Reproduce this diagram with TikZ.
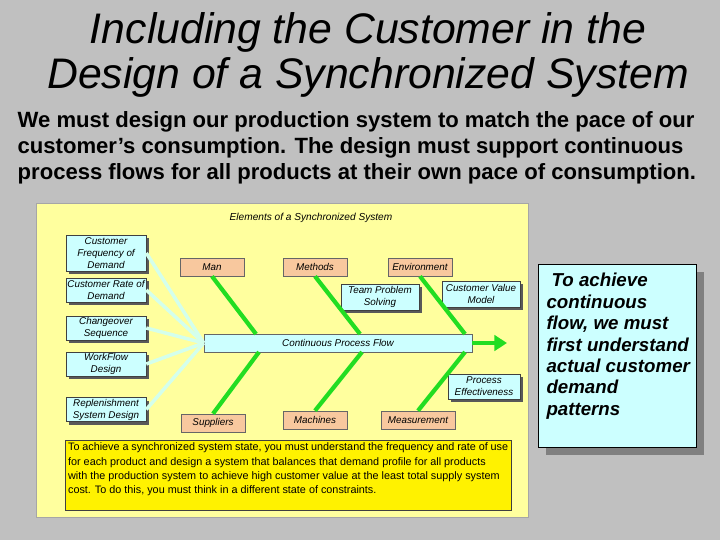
\documentclass[tikz,border=0pt]{standalone}
\usepackage{fontspec}
\setmainfont{Liberation Sans}
\usepackage{xcolor}
\usepackage{tikz}
\usetikzlibrary{arrows.meta, shadows}

\definecolor{slidegrey}{HTML}{C0C0C0}
\definecolor{panelyellow}{HTML}{FFFF9E}
\definecolor{boxcyan}{HTML}{CCFFFF}
\definecolor{boxorange}{HTML}{F8C89E}
\definecolor{bonegreen}{HTML}{22DD22}
\definecolor{feedcyan}{HTML}{D4FFEC}

\begin{document}
\begin{tikzpicture}[x=0.025cm, y=-0.025cm,
    every node/.append style={inner sep=1pt},
    cbox/.style={draw=black!75, fill=boxcyan, align=center,
        font=\fontsize{7}{8.5}\selectfont\itshape,
        drop shadow={shadow xshift=2.2pt, shadow yshift=-2.2pt, fill=black!65, opacity=1}},
    obox/.style={draw=black!60, fill=boxorange, minimum width=1.6cm, minimum height=0.45cm,
        font=\fontsize{7}{8.5}\selectfont\itshape},
    bone/.style={line width=3pt, draw=bonegreen},
    feed/.style={line width=2.5pt, draw=feedcyan},
]

% slide background and panel
\fill[slidegrey] (0,0) rectangle (720,540);
\draw[black!35, fill=panelyellow] (36,203) rectangle (528,517);

\node[font=\fontsize{30.4}{32}\selectfont\itshape, align=center] (title) at (368,55)
    {Including the Customer in the\\Design of a Synchronized System};

\node[font=\fontsize{15.7}{18.4}\selectfont\bfseries, align=left, anchor=north west] (intro) at (16,110)
    {We must design our production system to match the pace of our\\
     customer’s consumption.  The design must support continuous\\
     process flows for all products at their own pace of consumption.};

\node[font=\fontsize{7.2}{8.5}\selectfont\itshape] (elements) at (311,218) {Elements of a Synchronized System};

% demand boxes on the left
\node[cbox, minimum width=2cm, minimum height=0.9cm] (freq) at (106,253) {Customer\\Frequency of\\Demand};
\node[cbox, minimum width=2cm, minimum height=0.6cm] (rate) at (106,290) {Customer Rate of\\Demand};
\node[cbox, minimum width=2cm, minimum height=0.6cm] (change) at (106,328) {Changeover\\Sequence};
\node[cbox, minimum width=2cm, minimum height=0.6cm] (workflow) at (106,364) {WorkFlow\\Design};
\node[cbox, minimum width=2cm, minimum height=0.6cm] (replen) at (106,409.5) {Replenishment\\System Design};

% spine
\node[draw=black!60, fill=boxcyan, minimum width=6.7cm, minimum height=0.45cm,
    font=\fontsize{7}{8.5}\selectfont\itshape] (flow) at (338,343) {Continuous Process Flow};
\coordinate (flowend) at (507,343);

% cause boxes
\node[obox] (man) at (212,267) {Man};
\node[obox] (methods) at (315,267) {Methods};
\node[obox] (environ) at (420,267) {Environment};
\node[obox] (suppliers) at (213,423) {Suppliers};
\node[obox] (machines) at (315,420) {Machines};
\node[obox, minimum width=1.85cm] (measure) at (418,420) {Measurement};

\node[cbox, minimum width=1.95cm, minimum height=0.65cm] (team) at (380,297) {Team Problem\\Solving};
\node[cbox, minimum width=1.95cm, minimum height=0.65cm] (value) at (481,294) {Customer Value\\Model};
\node[cbox, minimum width=1.8cm, minimum height=0.625cm] (effect) at (484,386.5) {Process\\Effectiveness};

% points on the spine
\coordinate (t1) at (256,334);
\coordinate (t2) at (360,334);
\coordinate (t3) at (465,334);
\coordinate (b1) at (259,352);
\coordinate (b2) at (362,352);
\coordinate (b3) at (465,352);

\draw[bone] (man.south) -- (t1);
\draw[bone] (methods.south) -- (t2);
\draw[bone] (environ.south) -- (t3);
\draw[bone] (suppliers.north) -- (b1);
\draw[bone] (machines.north) -- (b2);
\draw[bone] (measure.north) -- (b3);
\draw[bone, -{Triangle[length=9pt, width=11pt]}] (flow.east) -- (flowend);

\draw[feed] (freq.east) -- (flow.west);
\draw[feed] (rate.east) -- (flow.west);
\draw[feed] (change.east) -- (flow.west);
\draw[feed] (workflow.east) -- (flow.west);
\draw[feed] (replen.east) -- (flow.west);

\node[draw=black!75, fill=yellow, anchor=north west, inner sep=2pt,
    font=\fontsize{7.7}{10}\selectfont] (note) at (65,440)
    {\begin{minipage}[t][1.6cm][t]{11.0cm}
     To achieve a synchronized system state, you must understand the frequency and rate of use\\
     for each product and design a system that balances that demand profile for all products\\
     with the production system to achieve high customer value at the least total supply system\\
     cost.  To do this, you must think in a different state of constraints.
     \end{minipage}};

% call-out on the right
\node[draw, fill=boxcyan, anchor=north west, minimum width=3.95cm, minimum height=4.575cm,
    inner sep=0pt, font=\fontsize{13.3}{15.2}\selectfont\bfseries\itshape,
    drop shadow={shadow xshift=5.5pt, shadow yshift=-5.5pt, fill=black!50, opacity=1}] (achieve) at (538,264)
    {\begin{minipage}[t][4.4cm][t]{3.75cm}
     \vspace{4pt}\hspace*{3pt}%
     \ To achieve\\\hspace*{3pt}continuous\\\hspace*{3pt}flow, we must\\\hspace*{3pt}first  understand\\\hspace*{3pt}actual customer\\\hspace*{3pt}demand\\\hspace*{3pt}patterns
     \end{minipage}};

\end{tikzpicture}
\end{document}
